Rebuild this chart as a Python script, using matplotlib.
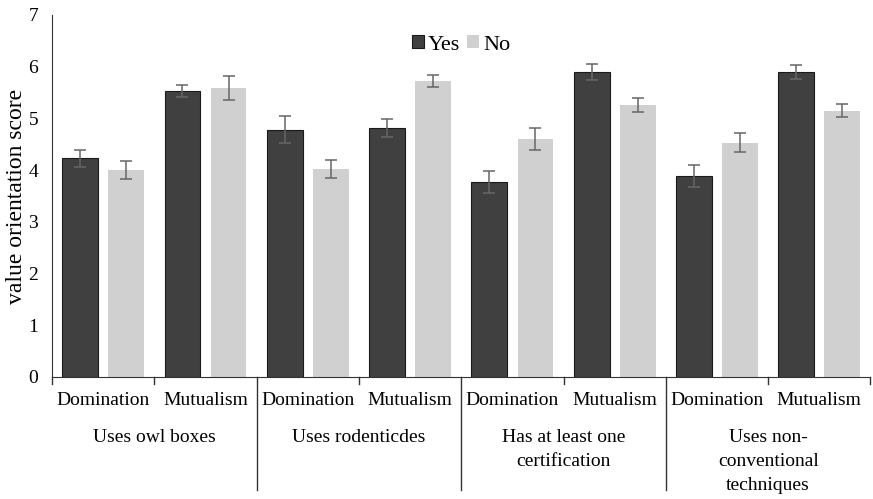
import numpy as np
import matplotlib
matplotlib.use("Agg")
import matplotlib.pyplot as plt
import matplotlib.transforms as mtransforms

plt.rcParams['font.family'] = ['Liberation Serif', 'DejaVu Serif']

groups = ["Uses owl boxes", "Uses rodenticdes", "Has at least one\ncertification",
          "Uses non-\nconventional\ntechniques"]
orientations = ["Domination", "Mutualism"]

# means and standard errors, ordered group by group (Domination, Mutualism)
yes_means = [4.23, 5.53, 4.78, 4.82, 3.77, 5.90, 3.88, 5.90]
yes_err = [0.16, 0.11, 0.26, 0.17, 0.21, 0.16, 0.21, 0.13]
no_means = [4.00, 5.59, 4.02, 5.72, 4.60, 5.26, 4.53, 5.15]
no_err = [0.18, 0.23, 0.17, 0.11, 0.21, 0.14, 0.18, 0.13]

fig = plt.figure(figsize=(8.73, 4.99), dpi=100)
ax = fig.add_axes([0.0596, 0.2445, 0.9375, 0.7255])

x = np.arange(len(yes_means))
w = 0.35
err_kw = dict(ecolor='#666666', elinewidth=1.1, capsize=4, capthick=1.1)
ax.bar(x - 0.225, yes_means, w, yerr=yes_err, color='#404040',
       edgecolor='#1a1a1a', linewidth=0.8, error_kw=err_kw, label='Yes')
ax.bar(x + 0.225, no_means, w, yerr=no_err, color='#d0d0d0',
       error_kw=err_kw, label='No')

ax.set_xlim(-0.5, len(x) - 0.5)
ax.set_ylim(0, 7)
ax.set_yticks(range(8))
ax.tick_params(axis='y', length=0, labelsize=14, pad=10)
ax.tick_params(axis='x', length=0)
ax.set_xticks([])
for s in ['top', 'right']:
    ax.spines[s].set_visible(False)
ax.spines['left'].set_color('#333333')
ax.spines['bottom'].set_color('#333333')
ax.set_ylabel('value orientation score', fontsize=17)
ax.yaxis.set_label_coords(-0.031, 0.5)

trans = mtransforms.blended_transform_factory(ax.transData, ax.transAxes)
# short ticks between categories, long dividers between groups
for b in np.arange(-0.5, len(x), 1.0):
    idx = int(b + 0.5)
    if idx % 2 == 0 and 0 < idx < len(x):
        ax.plot([b, b], [0, -0.312], transform=trans, color='#333333',
                lw=1, clip_on=False)
    else:
        ax.plot([b, b], [0, -0.018], transform=trans, color='#333333',
                lw=1, clip_on=False)

for i in x:
    ax.text(i, -0.064, orientations[i % 2], transform=trans, ha='center',
            va='center', fontsize=14)
for g, name in enumerate(groups):
    ax.text(2 * g + 0.5, -0.145, name, transform=trans, ha='center',
            va='top', fontsize=14, linespacing=1.52)

ax.legend(loc='upper center', bbox_to_anchor=(0.5, 1.0), ncol=2,
          frameon=False, fontsize=16, handlelength=0.55, handleheight=0.55,
          handletextpad=0.2, columnspacing=0.3)

fig.savefig('out.png', dpi=100)
